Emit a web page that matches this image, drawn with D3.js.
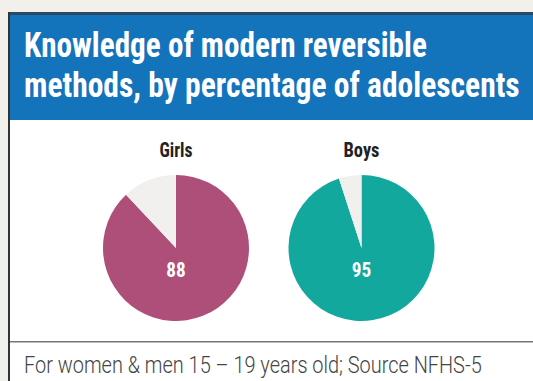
<!DOCTYPE html>
<html><head><meta charset="utf-8">
<script src="https://cdn.jsdelivr.net/npm/d3@7"></script>
<style>
html,body{margin:0;padding:0;background:#f2f0eb;}
svg{display:block;}
text{font-family:"Liberation Sans Narrow","Roboto Condensed","Liberation Sans",sans-serif;}
</style></head>
<body>
<svg id="c" width="533" height="381"></svg>
<script>
const groups = ["Girls", "Boys"];
const values = [88, 95];
const colors = ["#ad4f78", "#13a89e"];
const titleLines = ["Knowledge of modern reversible", "methods, by percentage of adolescents"];
const footnote = "For women & men 15 – 19 years old; Source NFHS-5";

const svg = d3.select("#c");
svg.append("rect").attr("width",533).attr("height",381).attr("fill","#f2f0eb");
// cropped glyph from text above
svg.append("text").attr("x",30).attr("y",-6).attr("font-size",24).attr("fill","#333")
  .style("font-family","Liberation Sans").text("g");

// fit a text to a target width by horizontal scaling
function fitText(sel, x, y, target, anchor){
  const w = sel.node().getComputedTextLength();
  const s = target / w;
  const dx = anchor === "middle" ? -target/2 : 0;
  sel.attr("x",0).attr("y",0).attr("text-anchor","start")
     .attr("transform",`translate(${x+dx},${y}) scale(${s},1)`);
}

// panel
svg.append("rect").attr("x",8).attr("y",12).attr("width",540).attr("height",380)
  .attr("fill","#ffffff");
svg.append("rect").attr("x",8).attr("y",12).attr("width",540).attr("height",3).attr("fill","#2b4a66");
svg.append("rect").attr("x",8).attr("y",12).attr("width",2).attr("height",380).attr("fill","#333");
svg.append("rect").attr("x",10).attr("y",15).attr("width",540).attr("height",105).attr("fill","#1373bb");

const tw = [403, 496];
titleLines.forEach((t,i)=>{
  const el = svg.append("text")
    .attr("font-size",36).attr("font-weight","bold").attr("fill","#fff").text(t);
  fitText(el, 24, 57+i*40, tw[i]);
});

// footer line
svg.append("rect").attr("x",10).attr("y",341).attr("width",540).attr("height",1.5).attr("fill","#777");
const fn = svg.append("text").attr("font-size",24).attr("font-weight",300)
  .attr("fill","#444").style("font-family","Roboto, 'Liberation Sans Narrow', sans-serif")
  .text(footnote);
fitText(fn, 24, 373, 458);

const x = d3.scalePoint().domain(groups).range([176, 361.5]);
const r = 73, cy = 248;
const pie = d3.pie().sort(null).value(d=>d);
const arc = d3.arc().innerRadius(0).outerRadius(r);
const labelW = [33, 36];

groups.forEach((g,i)=>{
  const gg = svg.append("g").attr("transform",`translate(${x(g)},${cy})`);
  const data = pie([values[i], 100-values[i]]);
  gg.selectAll("path").data(data).join("path")
    .attr("d",arc).attr("fill",(d,j)=> j===0 ? colors[i] : "#f2f0ee");
  const vt = gg.append("text").attr("font-size",21).attr("font-weight","bold")
    .attr("fill","#fff").text(values[i]);
  fitText(vt, 0, 29, 19.5, "middle");
  const lt = svg.append("text").attr("font-size",20).attr("font-weight","bold")
    .attr("fill","#222").text(g);
  fitText(lt, x(g), 157, labelW[i], "middle");
});
</script>
</body></html>
